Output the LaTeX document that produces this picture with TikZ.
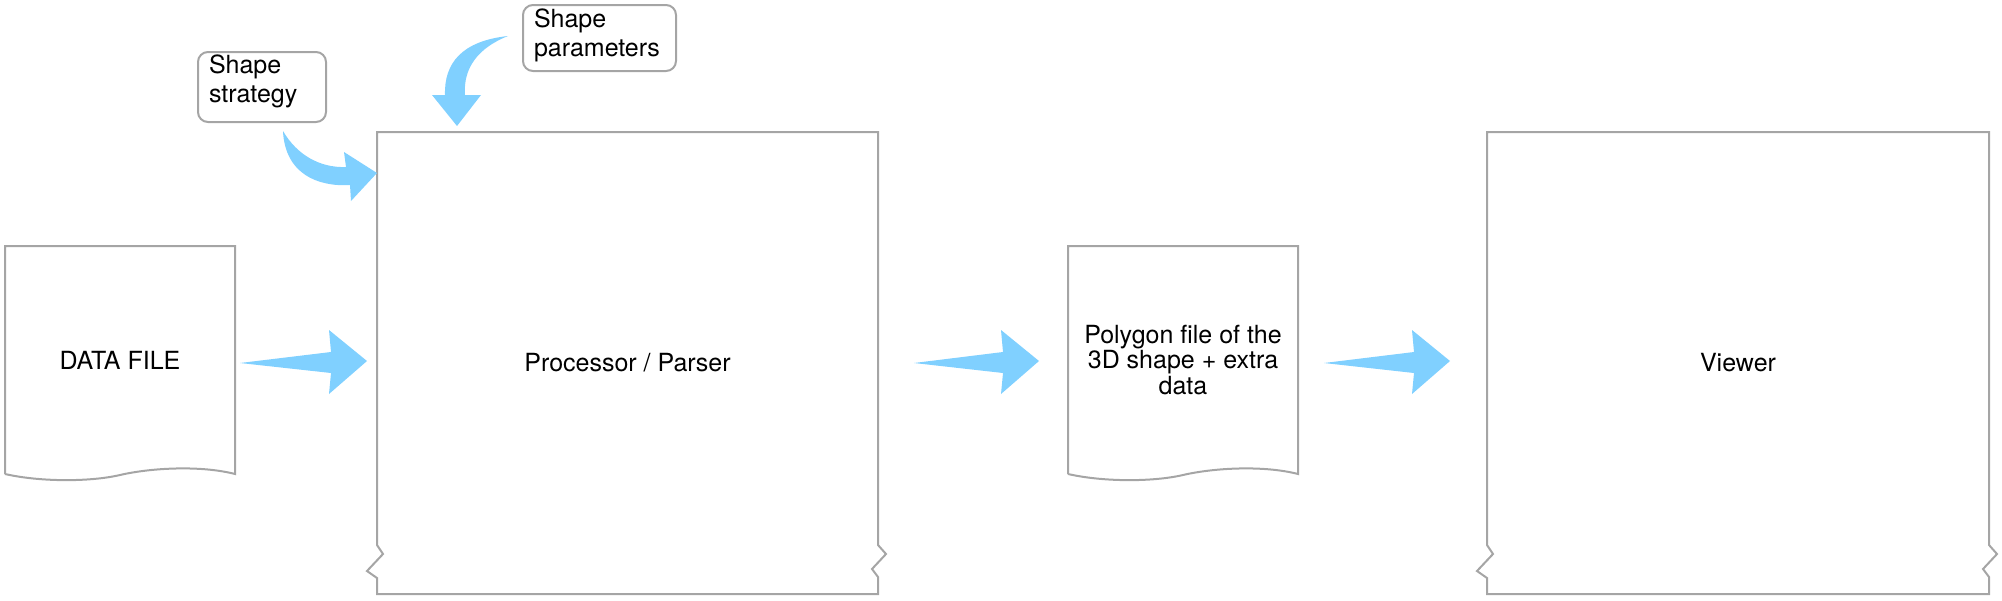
\documentclass[tikz,border=0pt]{standalone}
\usepackage{fontspec}
\setmainfont{TeX Gyre Heros}
\usetikzlibrary{calc}
\definecolor{arrowblue}{RGB}{128,208,255}
\definecolor{edgegray}{RGB}{165,165,165}
\newcommand\tornoutline[1]{%
  \draw[outline] (#1.north west) -- ($(#1.south west)+(0,-49)$) -- ++(6,9) -- ++(-16,17) -- ++(10,7)
    -- (#1.south west) -- (#1.south east) -- ++(0,-17) -- ++(-6,-8) -- ++(14,-15) -- ++(-8,-9)
    -- (#1.north east) -- cycle;}
\newcommand\docoutline[1]{%
  \draw[outline] (#1.south west) -- (#1.north west) -- (#1.north east) -- (#1.south east)
    .. controls +(-35,-9) and +(30,-7) .. ($(#1.south)+(0,1)$)
    .. controls +(-30,7) and +(35,8) .. (#1.south west);}
\newcommand\flatarrow[2]{%
  \fill[arrowblue] (#1) -- ($(#2)+(-36,-9)$) -- ($(#2)+(-38,-31)$) -- (#2)
    -- ($(#2)+(-38,33)$) -- ($(#2)+(-36,12)$) -- cycle;}
\begin{document}
\begin{tikzpicture}[x=0.5pt,y=-0.5pt,
  outline/.style={draw=edgegray,line width=1pt,line join=miter},
  callbox/.style={draw=edgegray,line width=1pt,rounded corners=5pt,inner sep=0pt,outer sep=0pt},
  frame/.style={inner sep=0pt,outer sep=0pt,font=\fontsize{12.5}{12.8}\selectfont,align=center},
  txt/.style={inner sep=0pt,outer sep=0pt,font=\fontsize{12.5}{14.5}\selectfont,align=left},
]
\useasboundingbox (0,0) rectangle (2002,600);

% main shapes
\node[frame,minimum width=115pt,minimum height=114pt] (data) at (120,360) {DATA FILE};
\node[frame,minimum width=250.5pt,minimum height=231pt] (proc) at (627.5,363) {Processor / Parser};
\node[frame,minimum width=115pt,minimum height=114pt] (poly) at (1183,360) {Polygon file of the\\3D shape + extra\\data};
\node[frame,minimum width=251pt,minimum height=231pt] (view) at (1738,363) {Viewer};

\docoutline{data}
\tornoutline{proc}
\docoutline{poly}
\tornoutline{view}

% callouts
\node[callbox,anchor=north west,minimum width=64pt,minimum height=35pt] (strat) at (198,52) {};
\node[txt,anchor=north west] (strattxt) at (209,55) {Shape\\strategy};
\node[callbox,anchor=north west,minimum width=76.5pt,minimum height=33pt] (param) at (523,5) {};
\node[txt,anchor=north west] (paramtxt) at (534,9) {Shape\\parameters};

% straight flow arrows
\coordinate (a1t) at ($(data.east)+(5,3)$);
\coordinate (a1h) at ($(proc.west)+(-10,-2)$);
\coordinate (a2t) at ($(proc.east)+(36,0)$);
\coordinate (a2h) at ($(poly.west)+(-29,1)$);
\coordinate (a3t) at ($(poly.east)+(26,3)$);
\coordinate (a3h) at ($(view.west)+(-37,-2)$);
\flatarrow{a1t}{a1h}
\flatarrow{a2t}{a2h}
\flatarrow{a3t}{a3h}

% curved arrow: strategy -> processor
\coordinate (c1t) at (283,131);
\coordinate (c1h) at (377,173);
\fill[arrowblue] (c1t) .. controls (285,174) and (318,187) .. (350,185)
  -- (351,201) -- (c1h) -- (344,152) -- (346,167)
  .. controls (320,168) and (297,155) .. (c1t) -- cycle;

% curved arrow: parameters -> processor
\coordinate (c2t) at (508,36);
\coordinate (c2h) at (457,126);
\fill[arrowblue] (c2t) .. controls (462,41) and (444,63) .. (445,95)
  -- (432,95) -- (c2h) -- (481,95) -- (465,95)
  .. controls (463,68) and (478,48) .. (c2t) -- cycle;
\end{tikzpicture}
\end{document}
